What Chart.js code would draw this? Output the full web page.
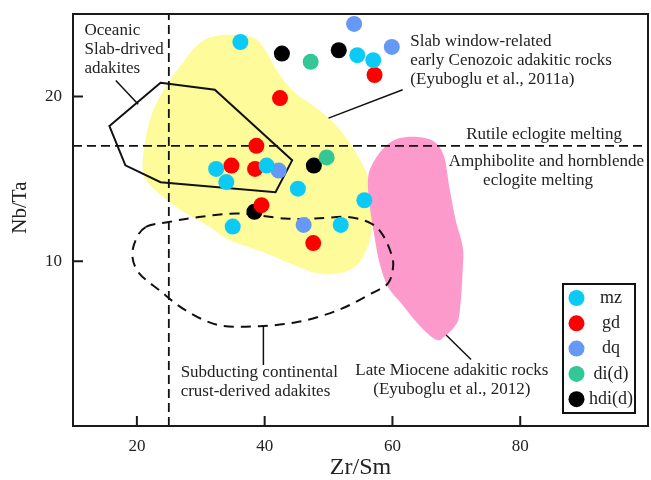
<!DOCTYPE html>
<html>
<head>
<meta charset="utf-8">
<script src="https://cdn.jsdelivr.net/npm/chart.js@4.4.1/dist/chart.umd.min.js"></script>
<style>
  html, body { margin: 0; padding: 0; background: #fff; }
  #wrap { width: 651px; height: 480px; }
</style>
</head>
<body>
<div id="wrap"><canvas id="chart"></canvas></div>
<script>
// sample groups
const SERIES = ['mz', 'gd', 'dq', 'di(d)', 'hdi(d)'];
const COLORS = ['#0bcbf6', '#ff0000', '#6699f5', '#33c795', '#000000'];

const MZ_X = [36.2, 54.5, 57.0, 32.4, 40.3, 34.0, 45.2, 55.6, 35.0, 51.9];
const MZ_Y = [23.3, 22.5, 22.2, 15.6, 15.8, 14.8, 14.4, 13.7, 12.1, 12.2];
const GD_X = [57.2, 42.4, 38.7, 34.8, 38.5, 39.5, 47.6];
const GD_Y = [21.3, 19.9, 17.0, 15.8, 15.6, 13.4, 11.1];
const DQ_X = [54.0, 59.9, 42.2, 46.1];
const DQ_Y = [24.4, 23.0, 15.5, 12.2];
const DI_X = [47.2, 49.7];
const DI_Y = [22.1, 16.3];
const HDI_X = [42.7, 51.6, 47.7, 38.4];
const HDI_Y = [22.6, 22.8, 15.8, 13.0];

const X_TICKS = [20, 40, 60, 80];
const Y_TICKS = [10, 20];

// reference lines
const X_REF = 25;
const Y_REF = 17;

// field outlines (Zr/Sm, Nb/Ta)
const SLAB_WINDOW_X = [29.7, 32.8, 38.0, 40.1, 42.2, 44.8, 48.4, 51.5, 54.1, 56.2, 57.0, 56.7, 55.7, 54.1,
  51.5, 48.4, 45.3, 40.1, 34.4, 31.3, 26.1, 21.9, 20.9, 21.4, 22.4, 24.5, 27.1];
const SLAB_WINDOW_Y = [23.2, 23.7, 23.6, 22.8, 21.4, 20.2, 19.2, 18.1, 16.7, 15.1, 13.3, 11.7, 10.5, 9.65,
  9.25, 9.25, 9.65, 10.5, 11.3, 12.1, 13.3, 14.7, 15.7, 17.5, 19.0, 20.6, 22.0];
const MIOCENE_X = [60.9, 64.0, 66.6, 68.1, 68.9, 69.9, 71.0, 71.0, 70.5, 69.7, 68.1, 67.1, 65.5, 63.5,
  61.4, 59.3, 58.0, 57.2, 56.4, 56.2, 57.2, 58.8];
const MIOCENE_Y = [17.44, 17.53, 17.23, 16.32, 14.5, 12.48, 10.87, 9.45, 6.83, 6.02, 5.41, 5.21, 5.62, 6.42,
  7.44, 8.44, 9.86, 11.47, 13.5, 15.11, 16.12, 16.93];
const OCEANIC_X = [23.7, 32.2, 44.3, 41.7, 23.7, 18.2, 15.7];
const OCEANIC_Y = [20.83, 20.41, 16.12, 14.18, 14.79, 15.82, 18.2];
const CONTINENTAL_X = [21.4, 25.0, 29.7, 35.9, 43.2, 47.9, 53.1, 56.7, 58.5, 59.8, 60.1, 59.3, 56.7, 51.5,
  45.3, 39.1, 32.8, 27.6, 23.5, 20.4, 19.3, 19.8];
const CONTINENTAL_Y = [12.08, 12.38, 12.68, 12.89, 12.59, 12.59, 12.68, 12.28, 11.58, 10.47, 9.65, 8.65, 8.04, 7.03,
  6.32, 6.06, 6.12, 7.03, 8.24, 9.25, 10.26, 11.27];

const SERIF = "'Liberation Serif', 'Times New Roman', serif";

function toPoints(scales, xs, ys) {
  return xs.map((v, i) => [scales.x.getPixelForValue(v), scales.y.getPixelForValue(ys[i])]);
}

function closedCurve(ctx, pts) {
  const n = pts.length;
  ctx.beginPath();
  ctx.moveTo(pts[0][0], pts[0][1]);
  for (let i = 0; i < n; i++) {
    const p0 = pts[(i - 1 + n) % n], p1 = pts[i], p2 = pts[(i + 1) % n], p3 = pts[(i + 2) % n];
    ctx.bezierCurveTo(
      p1[0] + (p2[0] - p0[0]) / 6, p1[1] + (p2[1] - p0[1]) / 6,
      p2[0] - (p3[0] - p1[0]) / 6, p2[1] - (p3[1] - p1[1]) / 6,
      p2[0], p2[1]);
  }
  ctx.closePath();
}

function polygon(ctx, pts) {
  ctx.beginPath();
  pts.forEach((p, i) => (i ? ctx.lineTo(p[0], p[1]) : ctx.moveTo(p[0], p[1])));
  ctx.closePath();
}

function segment(ctx, scales, x1, y1, x2, y2) {
  ctx.beginPath();
  ctx.moveTo(scales.x.getPixelForValue(x1), scales.y.getPixelForValue(y1));
  ctx.lineTo(scales.x.getPixelForValue(x2), scales.y.getPixelForValue(y2));
  ctx.stroke();
}

function note(ctx, scales, lines, x, y, align) {
  ctx.textAlign = align;
  ctx.textBaseline = 'middle';
  const px = scales.x.getPixelForValue(x);
  const py = scales.y.getPixelForValue(y);
  lines.forEach((t, i) => ctx.fillText(t, px, py + i * 19));
}

const fieldsPlugin = {
  id: 'fields',
  beforeDatasetsDraw(chart) {
    const { ctx, chartArea: a, scales } = chart;
    ctx.save();
    ctx.beginPath();
    ctx.rect(a.left, a.top, a.right - a.left, a.bottom - a.top);
    ctx.clip();

    closedCurve(ctx, toPoints(scales, SLAB_WINDOW_X, SLAB_WINDOW_Y));
    ctx.fillStyle = '#fefb9a';
    ctx.fill();

    closedCurve(ctx, toPoints(scales, MIOCENE_X, MIOCENE_Y));
    ctx.fillStyle = '#fb9acb';
    ctx.fill();

    ctx.strokeStyle = '#111';
    ctx.lineWidth = 1.8;
    ctx.setLineDash([9, 5]);
    segment(ctx, scales, X_REF, 0, X_REF, 25);
    segment(ctx, scales, 10, Y_REF, 100, Y_REF);

    ctx.lineWidth = 2;
    ctx.setLineDash([10, 7]);
    closedCurve(ctx, toPoints(scales, CONTINENTAL_X, CONTINENTAL_Y));
    ctx.stroke();

    ctx.setLineDash([]);
    polygon(ctx, toPoints(scales, OCEANIC_X, OCEANIC_Y));
    ctx.stroke();

    // leader lines
    ctx.lineWidth = 1.5;
    segment(ctx, scales, 16.7, 20.97, 20.2, 19.52);
    segment(ctx, scales, 50.0, 18.68, 61.6, 20.4);
    segment(ctx, scales, 39.8, 6.12, 39.8, 3.7);
    segment(ctx, scales, 68.4, 5.52, 72.3, 4.04);

    ctx.fillStyle = '#222';
    ctx.font = '17px ' + SERIF;
    note(ctx, scales, ['Oceanic', 'Slab-drived', 'adakites'], 11.8, 24.0, 'left');
    note(ctx, scales, ['Slab window-related', 'early Cenozoic adakitic rocks', '(Eyuboglu et al., 2011a)'], 62.8, 23.35, 'left');
    note(ctx, scales, ['Rutile eclogite melting'], 83.75, 17.7, 'center');
    note(ctx, scales, ['Amphibolite and hornblende'], 84.1, 16.02, 'center');
    note(ctx, scales, ['eclogite melting'], 82.8, 14.9, 'center');
    note(ctx, scales, ['Subducting continental', 'crust-derived adakites'], 26.85, 3.23, 'left');
    note(ctx, scales, ['Late Miocene adakitic rocks', '(Eyuboglu et al., 2012)'], 69.3, 3.39, 'center');
    ctx.restore();
  },
  afterDraw(chart) {
    const { ctx, chartArea: a, scales } = chart;
    ctx.save();
    ctx.strokeStyle = '#1a1a1a';
    ctx.lineWidth = 2;
    ctx.strokeRect(a.left, a.top, a.right - a.left, a.bottom - a.top);
    // inward tick marks
    ctx.beginPath();
    X_TICKS.forEach(v => {
      const px = scales.x.getPixelForValue(v);
      ctx.moveTo(px, a.bottom);
      ctx.lineTo(px, a.bottom - 10);
    });
    Y_TICKS.forEach(v => {
      const py = scales.y.getPixelForValue(v);
      ctx.moveTo(a.left, py);
      ctx.lineTo(a.left + 10, py);
    });
    ctx.stroke();

    // y axis title, a little above the middle as in the original
    ctx.save();
    ctx.translate(20, a.top + (a.bottom - a.top) * 0.47);
    ctx.rotate(-Math.PI / 2);
    ctx.font = '21px ' + SERIF;
    ctx.fillStyle = '#222';
    ctx.textAlign = 'center';
    ctx.textBaseline = 'middle';
    ctx.fillText('Nb/Ta', 0, 0);
    ctx.restore();

    // legend box, bottom right of the plot
    const w = 72, h = 129;
    const bx = a.right - 13 - w, by = a.bottom - 13 - h;
    ctx.fillStyle = '#fff';
    ctx.fillRect(bx, by, w, h);
    ctx.strokeStyle = '#111';
    ctx.strokeRect(bx, by, w, h);
    ctx.font = '18px ' + SERIF;
    ctx.textAlign = 'center';
    ctx.textBaseline = 'middle';
    chart.data.datasets.forEach((ds, i) => {
      const cy = by + 14 + i * 25.3;
      ctx.beginPath();
      ctx.arc(bx + 13.5, cy, 8, 0, Math.PI * 2);
      ctx.fillStyle = ds.backgroundColor;
      ctx.fill();
      ctx.fillStyle = '#222';
      ctx.fillText(ds.label, bx + 48, cy);
    });
    ctx.restore();
  }
};

function points(xs, ys) {
  return xs.map((x, i) => ({ x, y: ys[i] }));
}

const groups = [[MZ_X, MZ_Y], [GD_X, GD_Y], [DQ_X, DQ_Y], [DI_X, DI_Y], [HDI_X, HDI_Y]];

new Chart(document.getElementById('chart'), {
  type: 'scatter',
  data: {
    datasets: groups.map((g, i) => ({
      label: SERIES[i],
      data: points(g[0], g[1]),
      backgroundColor: COLORS[i],
      borderWidth: 0,
      pointRadius: 8,
      pointHoverRadius: 8,
      clip: false
    }))
  },
  options: {
    responsive: true,
    maintainAspectRatio: false,
    animation: false,
    events: [],
    layout: { autoPadding: false, padding: { top: 14, right: 3, left: 0, bottom: 0 } },
    plugins: {
      legend: { display: false },
      tooltip: { enabled: false }
    },
    scales: {
      x: {
        type: 'linear',
        min: 10,
        max: 100,
        afterBuildTicks: s => { s.ticks = X_TICKS.map(v => ({ value: v })); },
        afterFit: s => { s.height = 54; s.paddingLeft = 0; s.paddingRight = 0; },
        grid: { display: false, drawTicks: false },
        border: { display: false },
        ticks: { color: '#222', padding: 10, font: { family: SERIF, size: 17 } },
        title: {
          display: true,
          text: 'Zr/Sm',
          color: '#222',
          font: { family: SERIF, size: 24, lineHeight: 1 },
          padding: { top: 0, bottom: 0 }
        }
      },
      y: {
        type: 'linear',
        min: 0,
        max: 25,
        afterBuildTicks: s => { s.ticks = Y_TICKS.map(v => ({ value: v })); },
        afterFit: s => { s.width = 73; s.paddingTop = 0; s.paddingBottom = 0; },
        grid: { display: false, drawTicks: false },
        border: { display: false },
        ticks: { color: '#222', padding: 11, font: { family: SERIF, size: 17 } },
        title: { display: false }
      }
    }
  },
  plugins: [fieldsPlugin]
});
</script>
</body>
</html>
